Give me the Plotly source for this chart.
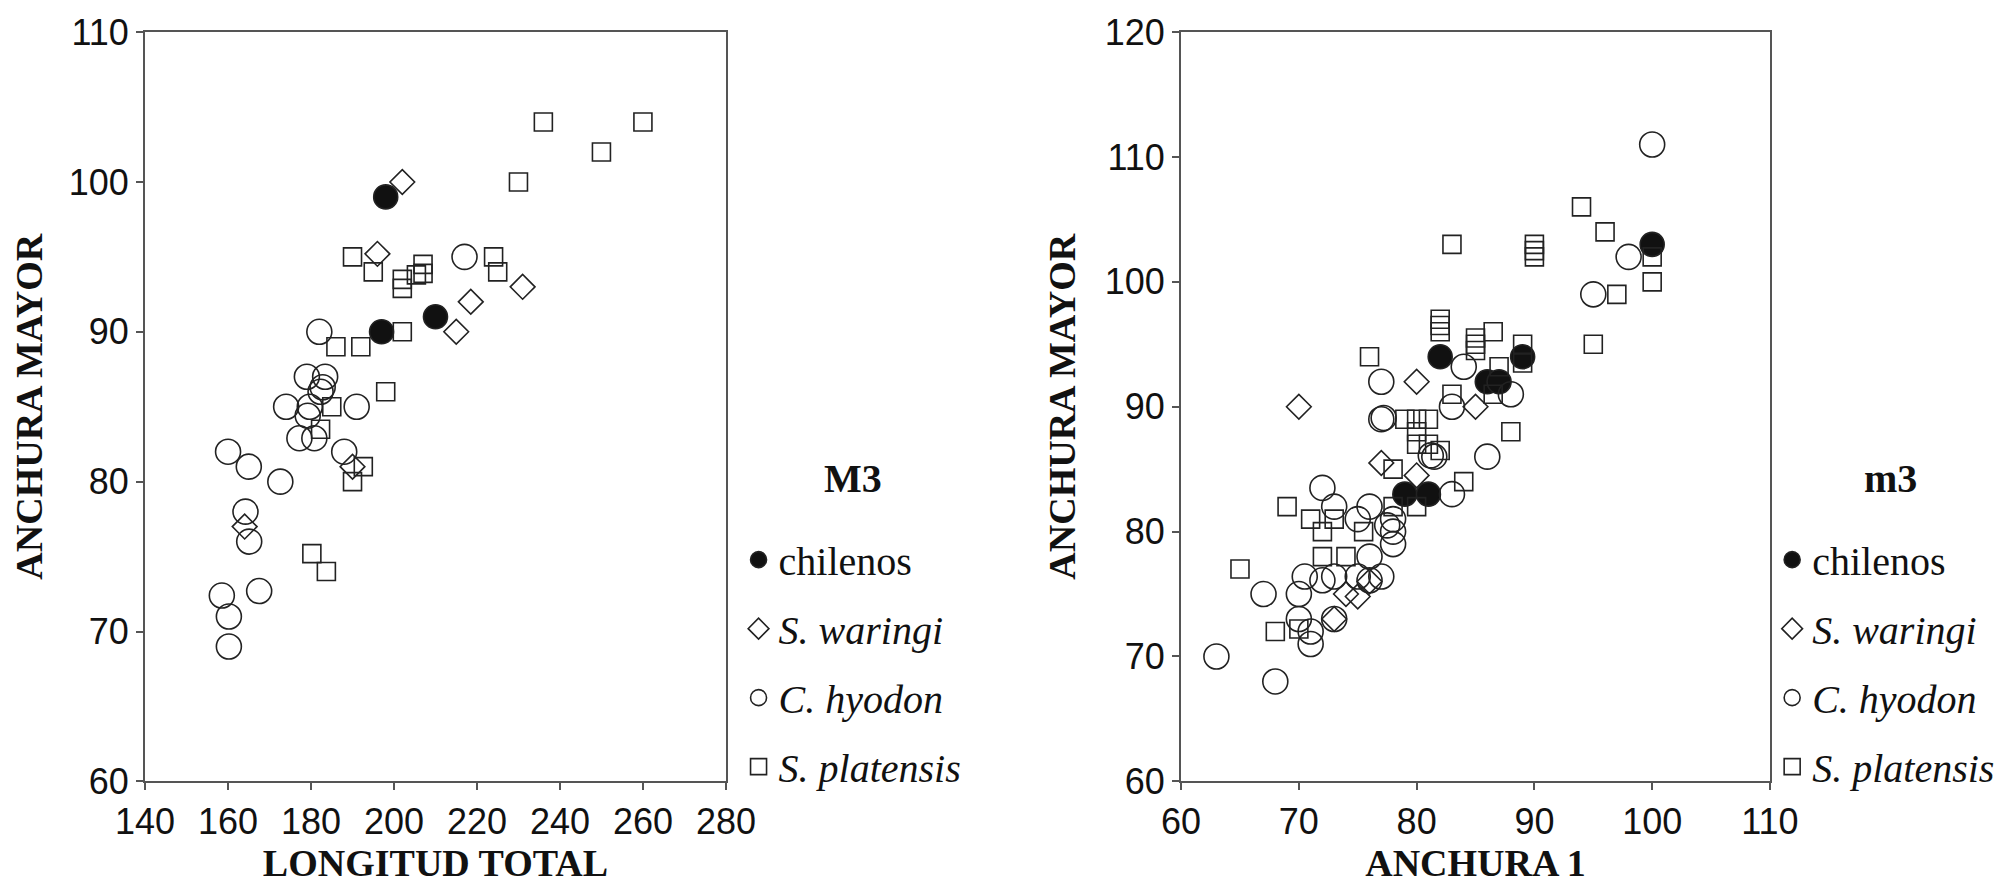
import plotly.graph_objects as go

# --- M3 panel: longitud total vs anchura mayor ---
m3_chilenos_x = [198, 197, 210]
m3_chilenos_y = [99, 90, 91]

m3_waringi_x = [202, 196, 218.5, 231, 215, 190, 164]
m3_waringi_y = [100, 95.2, 92, 93, 90, 81, 77]

m3_hyodon_x = [217, 182, 179, 183.4, 182.3, 182.8, 174, 179.7, 191, 179.2, 177.2, 180.8,
               188, 160, 165, 172.6, 164.2, 165.1, 158.5, 167.5, 160.2, 160.2]
m3_hyodon_y = [95, 90, 87, 87, 86, 86.3, 85, 85, 85, 84.4, 82.9, 82.9,
               82, 82, 81, 80, 78, 76, 72.4, 72.7, 71, 69]

m3_platensis_x = [236, 260, 250, 230, 190, 195, 224, 225, 202, 202, 205.4, 207, 207,
                  202, 186, 192, 198, 185, 182.3, 192.6, 190, 180.2, 183.7]
m3_platensis_y = [104, 104, 102, 100, 95, 94, 95, 94, 93.5, 92.9, 93.8, 94.5, 93.9,
                  90, 89, 89, 86, 85, 83.5, 81, 80, 75.2, 74]

# --- m3 panel: anchura 1 vs anchura mayor ---
m3b_chilenos_x = [100, 82, 89, 86, 87, 79, 81]
m3b_chilenos_y = [103, 94, 94, 92, 92, 83, 83]

m3b_waringi_x = [70, 80, 85, 77, 80, 76, 75, 74, 73]
m3b_waringi_y = [90, 92, 90, 85.5, 84.5, 76, 74.8, 75, 73]

m3b_hyodon_x = [100, 98, 95, 84, 77, 88, 83, 77, 77.2, 81.2, 81.5, 86, 83, 72, 73, 76,
                75, 78, 77.5, 78, 78, 76, 70.5, 73, 75, 77, 72, 76, 67, 70, 70, 73,
                71, 71, 63, 68]
m3b_hyodon_y = [111, 102, 99, 93.2, 92, 91, 90, 89, 89.1, 86.1, 86, 86, 83, 83.5, 82, 82,
                81, 81, 80.5, 80, 79, 78, 76.4, 76.4, 76.4, 76.4, 76.1, 76.1, 75, 75, 73, 73,
                72, 71, 70, 68]

m3b_platensis_x = [94, 96, 83, 90, 90, 90, 100, 100, 97, 95, 82, 82, 82, 86.5, 85, 85, 85,
                   76, 89, 89, 87, 83, 86.5, 79, 80, 81, 80, 80, 88, 81, 82, 84, 78, 80,
                   69, 78, 71, 73, 72, 75.5, 65, 72, 74, 68, 70]
m3b_platensis_y = [106, 104, 103, 103, 102.5, 102, 102, 100, 99, 95, 97, 96.5, 96, 96, 95.5, 95, 94.5,
                   94, 95, 93.5, 93.2, 91, 91, 89, 89, 89, 88, 87, 88, 87, 86.5, 84, 85, 82,
                   82, 82, 81, 81, 80, 80, 77, 78, 78, 72, 72.2]

species = ["chilenos", "<i>S. waringi</i>", "<i>C. hyodon</i>", "<i>S. platensis</i>"]

line_col = "#555555"
ink = "#222222"

fig = go.Figure()

panels = [
    ("x", "y", "legend",
     [(m3_chilenos_x, m3_chilenos_y), (m3_waringi_x, m3_waringi_y),
      (m3_hyodon_x, m3_hyodon_y), (m3_platensis_x, m3_platensis_y)]),
    ("x2", "y2", "legend2",
     [(m3b_chilenos_x, m3b_chilenos_y), (m3b_waringi_x, m3b_waringi_y),
      (m3b_hyodon_x, m3b_hyodon_y), (m3b_platensis_x, m3b_platensis_y)]),
]

# symbol, size, fill for each group
marker_styles = [
    ("circle", 24, "#111111"),
    ("diamond-open", 19, None),
    ("circle-open", 25, None),
    ("square-open", 18, None),
]

for xa, ya, leg, groups in panels:
    for i, (xs, ys) in enumerate(groups):
        sym, size, fill = marker_styles[i]
        marker = dict(symbol=sym, size=size, line=dict(color=ink, width=1.6),
                      color=fill if fill else ink)
        fig.add_trace(go.Scatter(
            x=xs, y=ys, mode="markers", name=species[i],
            xaxis=xa, yaxis=ya, legend=leg,
            legendgroup=leg + str(i), marker=marker,
        ))

axis_common = dict(
    showline=True, linecolor=line_col, linewidth=2, mirror=True,
    ticks="outside", ticklen=7, tickwidth=2, tickcolor=line_col,
    showgrid=False, zeroline=False, ticklabeloverflow="allow",
    tickfont=dict(family="Liberation Sans", size=36, color="#111111"),
)
title_font = dict(family="Liberation Serif", size=38, color="#111111", weight="bold")
legend_font = dict(family="Liberation Serif", size=40, color="#111111")

y_dom = [0.133, 0.973]

fig.update_layout(
    width=2007, height=892,
    template="none",
    paper_bgcolor="white", plot_bgcolor="white",
    margin=dict(l=0, r=0, t=0, b=0),
    xaxis=dict(domain=[0.0683, 0.3577], range=[140, 280], dtick=20, anchor="y",
               title=dict(text="LONGITUD TOTAL", font=title_font, standoff=6),
               **axis_common),
    yaxis=dict(domain=y_dom, range=[60, 110], dtick=10, anchor="x",
               title=dict(text="ANCHURA MAYOR", font=title_font, standoff=18),
               **axis_common),
    xaxis2=dict(domain=[0.5845, 0.8779], range=[60, 110], dtick=10, anchor="y2",
                title=dict(text="ANCHURA 1", font=title_font, standoff=6),
                **axis_common),
    yaxis2=dict(domain=y_dom, range=[60, 120], dtick=10, anchor="x2",
                title=dict(text="ANCHURA MAYOR", font=title_font, standoff=18),
                **axis_common),
    legend=dict(x=0.364, y=0.418, xanchor="left", yanchor="top",
                bgcolor="rgba(0,0,0,0)", traceorder="grouped", tracegroupgap=14,
                font=legend_font),
    legend2=dict(x=0.879, y=0.418, xanchor="left", yanchor="top",
                 bgcolor="rgba(0,0,0,0)", traceorder="grouped", tracegroupgap=14,
                 font=legend_font),
    annotations=[
        dict(text="<b>M3</b>", x=0.421, y=0.473, xref="paper", yref="paper",
             xanchor="center", yanchor="middle", showarrow=False, font=legend_font),
        dict(text="<b>m3</b>", x=0.938, y=0.473, xref="paper", yref="paper",
             xanchor="center", yanchor="middle", showarrow=False, font=legend_font),
    ],
)

fig.write_html("out.html")
